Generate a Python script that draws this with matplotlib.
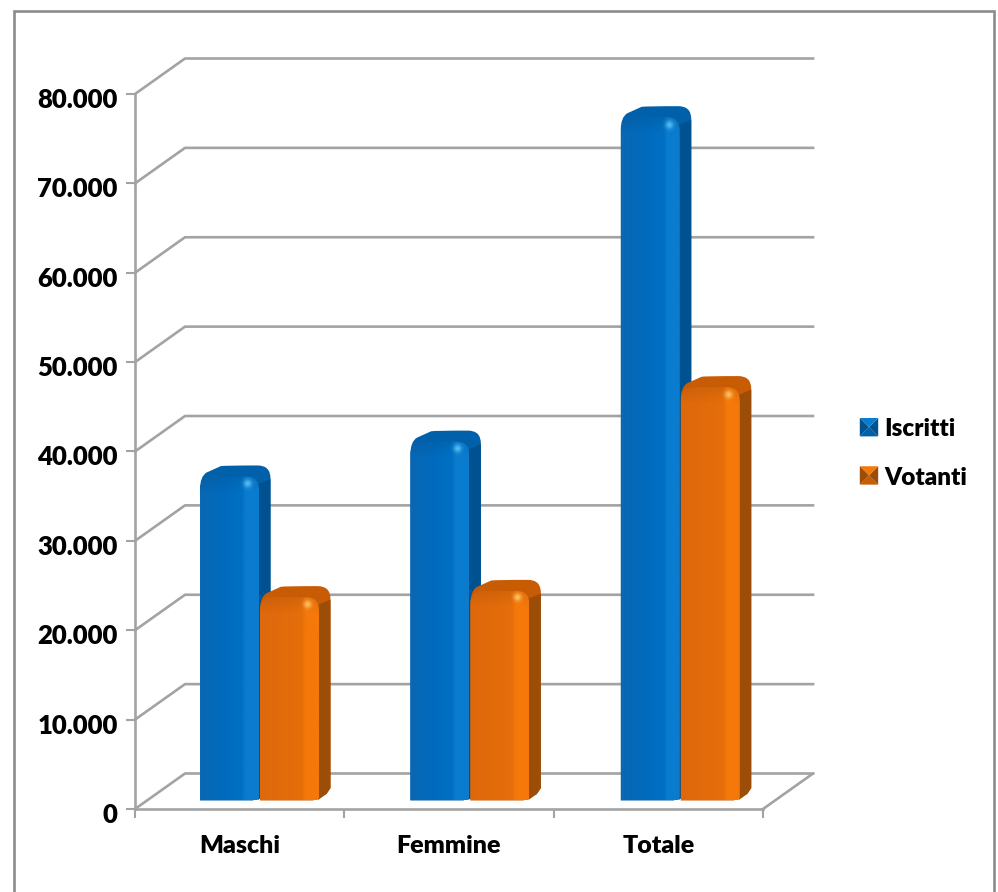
#Chart of registered voters and voters, drawn as fake 3D bars
import numpy as np
import matplotlib
matplotlib.use("Agg")
import matplotlib.pyplot as plt
from matplotlib.path import Path
from matplotlib.patches import PathPatch, Polygon, Rectangle
from matplotlib.legend_handler import HandlerBase
from matplotlib.transforms import ScaledTranslation

#Data
categories = ["Maschi", "Femmine", "Totale"]
iscritti = [36200, 40100, 76400]
votanti = [22700, 23400, 46200]
y_ticks = [0, 10000, 20000, 30000, 40000, 50000, 60000, 70000, 80000]

W, H = 998, 892
GRID = "#a3a3a3"
BLUE = dict(front=["#0a67b3", "#006bbd", "#0070c4", "#0a7ccf"], top="#0061aa", side="#00518f", spot="#55bdf5")
ORANGE = dict(front=["#de680c", "#e26b0b", "#e66e0a", "#f5780a"], top="#c85c04", side="#9c4d08", spot="#ffc060")

fig = plt.figure(figsize=(W / 100, H / 100), dpi=100)
#chart border, its bottom edge falls outside the picture
fig.patches.append(Rectangle((14 / W, -10 / H), 980 / W, (H - 11 + 10) / H, transform=fig.transFigure,
                             fc="white", ec="#8c8c8c", lw=1.9, zorder=-1))

#Axes: x=0 at px 135, x=3 at px 763, y=0 at px 809, y=80000 at px 94
ax = fig.add_axes([135 / W, 1 - 809 / H, 628 / W, 715 / H])
ax.patch.set_alpha(0)
ax.set_xlim(0, 3)
ax.set_ylim(0, 80000)
px_x = 3 / 628
px_y = 80000 / 715

#Grid walls, going back by depth
dx = 50 * px_x
dy = 35.5 * px_y
wall_end = 3 + dx
for v in y_ticks:
    ax.plot([0, dx, wall_end], [v, v + dy, v + dy], color=GRID, lw=1.9, clip_on=False, zorder=1)
ax.plot([3, wall_end], [0, dy], color=GRID, lw=1.9, clip_on=False, zorder=1)

#Axis lines and ticks
for s in ["top", "right"]:
    ax.spines[s].set_visible(False)
for s in ["left", "bottom"]:
    ax.spines[s].set_color(GRID)
    ax.spines[s].set_linewidth(1.9)
ax.set_xticks([0, 1, 2, 3])
ax.set_xticklabels([])
ax.set_xticks([0.5, 1.5, 2.5], minor=True)
ax.set_xticklabels(categories, minor=True, fontsize=18, fontweight="heavy", family="Lato")
ax.tick_params(axis="x", which="major", length=6.5, width=1.5, color=GRID)
ax.tick_params(axis="x", which="minor", length=0, pad=19)
ax.set_yticks(y_ticks)
ax.set_yticklabels([f"{v:,}".replace(",", ".") for v in y_ticks], fontsize=18.5, fontweight="heavy", family="Lato")
ax.tick_params(axis="y", length=6.5, width=1.5, color=GRID, pad=6)
#y labels sit a little under their ticks
for lab in ax.get_yticklabels():
    lab.set_transform(lab.get_transform() + ScaledTranslation(0, -4 / 100, fig.dpi_scale_trans))


def rgb(c):
    return np.array(matplotlib.colors.to_rgb(c))


def draw_bar(x, value, col, z):
    #sizes in pixels, converted to data units
    w, d, rise, base_off, r = 59, 11.5, 11, 9, 13
    x0 = x
    x1 = x0 + w * px_x
    x2 = x1 + d * px_x
    y0 = base_off * px_y
    yt = y0 + value
    yb = yt + rise * px_y
    rx = r * px_x
    ry = r * px_y

    #outline of top and side together
    verts = [(x0, y0), (x0, yt - ry), (x0, yt), (x0 + 0.5 * rx, yt + 0.3 * ry), (x0 + 1.6 * rx, yb - 0.05 * ry),
             (x0 + 1.9 * rx, yb), (x2 - rx, yb), (x2, yb), (x2, yb - ry), (x2, y0 + 12 * px_y),
             (x2 - 4 * px_x, y0 + 6 * px_y), (x1 - 6 * px_x, y0 - 0.5 * px_y), (x0, y0 - 0.5 * px_y), (x0, y0)]
    codes = [Path.MOVETO, Path.LINETO, Path.CURVE3, Path.CURVE3, Path.LINETO, Path.CURVE3, Path.LINETO,
             Path.CURVE3, Path.CURVE3, Path.LINETO, Path.LINETO, Path.LINETO, Path.LINETO, Path.CLOSEPOLY]
    ax.add_patch(PathPatch(Path(verts, codes), fc=col["top"], ec="none", clip_on=False, zorder=z))

    #darker side face
    side = [(x1 - 1 * px_x, y0), (x1 - 1 * px_x, yt - 0.6 * ry), (x2, yt - 0.2 * ry), (x2, y0 + 12 * px_y), (x2 - 4 * px_x, y0 + 6 * px_y)]
    ax.add_patch(Polygon(side, fc=col["side"], ec="none", clip_on=False, zorder=z))

    #front face: a shaded picture clipped to a rounded shape, row 0 is the top
    nx, ny = 60, 400
    stops = np.array([rgb(c) for c in col["front"]])
    t = np.linspace(0, 1, nx)
    img = np.stack([np.interp(t, [0, 0.4, 0.72, 0.78], stops[:, i]) for i in range(3)], axis=1)
    img = np.repeat(img[None, :, :], ny, axis=0)
    hpx = value / px_y
    ypx = np.linspace(0, hpx, ny)[:, None]
    xpx = np.linspace(0, w, nx)[None, :]
    shade = np.clip(ypx / 16, 0, 1)[:, :, None]
    img = img * (0.92 + 0.08 * shade)
    spot = np.exp(-(((xpx - 48) / 4) ** 2 + ((ypx - 7) / 4) ** 2))[:, :, None]
    img = img * (1 - spot) + rgb(col["spot"]) * spot
    im = ax.imshow(img, extent=[x0, x1, y0, yt], aspect="auto", interpolation="bilinear", zorder=z + 1, clip_on=True)
    front = [(x0, y0 - 0.5 * px_y), (x0, yt - ry), (x0, yt), (x0 + rx, yt), (x1 - rx, yt), (x1, yt), (x1, yt - ry),
             (x1, y0 + 2 * px_y), (x1 - 2 * px_x, y0 - 0.5 * px_y), (x0, y0 - 0.5 * px_y)]
    fcodes = [Path.MOVETO, Path.LINETO, Path.CURVE3, Path.CURVE3, Path.LINETO, Path.CURVE3, Path.CURVE3,
              Path.LINETO, Path.LINETO, Path.CLOSEPOLY]
    im.set_clip_path(PathPatch(Path(front, fcodes), transform=ax.transData))


#Bars, later categories and the orange ones on top
bar_w = 60 * px_x
left = 65 * px_x
for i in range(len(categories)):
    draw_bar(i + left + 0.005 * i, iscritti[i], BLUE, 3 + i * 4)
    draw_bar(i + left + 0.005 * i + bar_w, votanti[i], ORANGE, 5 + i * 4)
ax.set_xlim(0, 3)
ax.set_ylim(0, 80000)


#Legend key: small pyramid of four triangles
class PyramidKey(HandlerBase):
    def __init__(self, col):
        super().__init__()
        self.col = col

    def create_artists(self, legend, orig, xd, yd, width, height, fontsize, trans):
        s = height * 1.08
        x0 = width - s
        y0 = -yd
        cx, cy = x0 + s / 2, y0 + s / 2
        c = [(x0, y0), (x0 + s, y0), (x0 + s, y0 + s), (x0, y0 + s)]
        faces = [self.col["top"], self.col["side"], self.col["front"][3], self.col["side"]]
        out = []
        for k in range(4):
            out.append(Polygon([c[k], c[(k + 1) % 4], (cx, cy)], fc=faces[k], ec="none", transform=trans))
        return out


h1 = Rectangle((0, 0), 1, 1)
h2 = Rectangle((0, 0), 1, 1)
fig.legend([h1, h2], ["Iscritti", "Votanti"], handler_map={h1: PyramidKey(BLUE), h2: PyramidKey(ORANGE)},
           loc="center left", bbox_to_anchor=(832 / W, 1 - 453.5 / H), frameon=False,
           prop=dict(family="Lato", weight="heavy", size=17.5), labelspacing=1.08,
           handlelength=1.0, handletextpad=0.25)

fig.savefig("out.png", dpi=100)
